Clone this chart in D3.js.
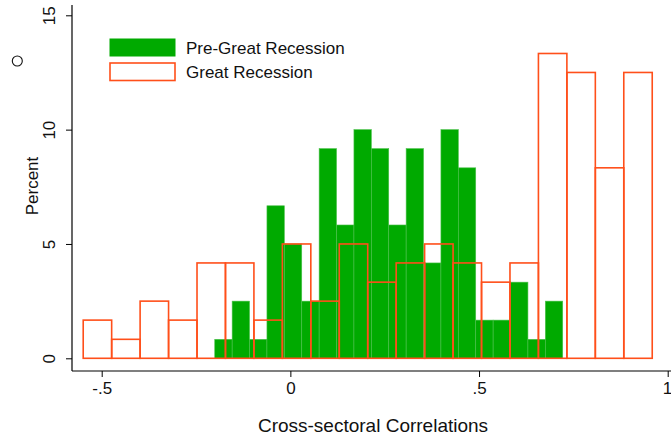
<!DOCTYPE html>
<html>
<head>
<meta charset="utf-8">
<script src="https://cdn.jsdelivr.net/npm/d3@7/dist/d3.min.js"></script>
<style>
  html, body { margin: 0; padding: 0; background: #fff; }
  svg { display: block; font-family: "Liberation Sans", Arial, Helvetica, sans-serif; }
</style>
</head>
<body>
<svg id="chart" width="671" height="439"></svg>
<script>
// Histogram of cross-sectoral correlations, percent of observations per bin.
const preStart = -0.2004;   // first bin edge, pre-Great Recession
const preWidth = 0.04611;   // bin width, pre-Great Recession
const preValues = [0.83, 2.5, 0.83, 6.67, 5.0, 2.5, 9.17, 5.83, 10.0, 9.17,
                   5.83, 9.17, 4.17, 10.0, 8.33, 1.67, 1.67, 3.33, 0.83, 2.5];

const grStart = -0.549;     // first bin edge, Great Recession
const grWidth = 0.0754;     // bin width, Great Recession
const grValues = [1.67, 0.83, 2.5, 1.67, 4.17, 4.17, 1.67, 5.0, 2.5, 5.0,
                  3.33, 4.17, 5.0, 4.17, 3.33, 4.17, 13.33, 12.5, 8.33, 12.5];

const xTicks = [-0.5, 0, 0.5, 1];
const xTickLabels = ["-.5", "0", ".5", "1"];
const yTicks = [0, 5, 10, 15];

const seriesNames = ["Pre-Great Recession", "Great Recession"];
const xTitle = "Cross-sectoral Correlations";
const yTitle = "Percent";

const green = "#00aa00";
const orange = "#ff4f1a";

const svg = d3.select("#chart");

const x = d3.scaleLinear().domain([-0.5, 1]).range([101.7, 667.7]);
const y = d3.scaleLinear().domain([0, 15]).range([358.3, 15.3]);

const axisY = 371;   // baseline of the x axis
const axisX = 72;    // position of the y axis

function bins(start, width, values) {
  return values.map((v, i) => ({ x0: start + i * width, x1: start + (i + 1) * width, v }));
}

// Pre-Great Recession: filled bars
svg.append("g").selectAll("rect")
  .data(bins(preStart, preWidth, preValues))
  .join("rect")
  .attr("x", d => x(d.x0))
  .attr("width", d => x(d.x1) - x(d.x0))
  .attr("y", d => y(d.v))
  .attr("height", d => y(0) - y(d.v))
  .attr("fill", green)
  .attr("stroke", "#4cc04c")
  .attr("stroke-width", 0.6);

// Great Recession: outlined bars
svg.append("g").selectAll("rect")
  .data(bins(grStart, grWidth, grValues))
  .join("rect")
  .attr("x", d => x(d.x0))
  .attr("width", d => x(d.x1) - x(d.x0))
  .attr("y", d => y(d.v))
  .attr("height", d => y(0) - y(d.v))
  .attr("fill", "none")
  .attr("stroke", orange)
  .attr("stroke-width", 1.6);

// X axis
const xAxis = d3.axisBottom(x)
  .tickValues(xTicks)
  .tickFormat((d, i) => xTickLabels[i])
  .tickSize(6)
  .tickPadding(5);
const gx = svg.append("g").attr("transform", `translate(0,${axisY})`).call(xAxis);
gx.select(".domain").remove();
gx.append("line")
  .attr("x1", axisX).attr("x2", 671)
  .attr("y1", 0).attr("y2", 0)
  .attr("stroke", "#000").attr("stroke-width", 1.2);
gx.selectAll(".tick line").attr("stroke", "#000").attr("stroke-width", 1);
gx.selectAll(".tick text")
  .attr("font-size", 17)
  .attr("font-family", "Liberation Sans, Arial, sans-serif")
  .attr("fill", "#111");
// keep the last label inside the page edge
gx.selectAll(".tick text").filter(d => d === 1).attr("text-anchor", "end").attr("x", 4);

// Y axis with vertical tick labels
const yAxis = d3.axisLeft(y)
  .tickValues(yTicks)
  .tickFormat(d3.format("d"))
  .tickSize(6)
  .tickPadding(0);
const gy = svg.append("g").attr("transform", `translate(${axisX},0)`).call(yAxis);
gy.select(".domain").remove();
gy.append("line")
  .attr("x1", 0).attr("x2", 0)
  .attr("y1", 5).attr("y2", axisY)
  .attr("stroke", "#000").attr("stroke-width", 1.2);
gy.selectAll(".tick line").attr("stroke", "#000").attr("stroke-width", 1);
gy.selectAll(".tick text")
  .attr("x", 0).attr("dy", null)
  .attr("text-anchor", "middle")
  .attr("transform", "translate(-17,0) rotate(-90)")
  .attr("font-size", 17)
  .attr("font-family", "Liberation Sans, Arial, sans-serif")
  .attr("fill", "#111");

// Axis titles
svg.append("text")
  .attr("x", 373).attr("y", 432)
  .attr("text-anchor", "middle")
  .attr("font-size", 19)
  .attr("fill", "#111")
  .text(xTitle);

svg.append("text")
  .attr("transform", "translate(38,186) rotate(-90)")
  .attr("text-anchor", "middle")
  .attr("font-size", 17)
  .attr("fill", "#111")
  .text(yTitle);

// Legend
const legend = svg.append("g");
legend.append("rect")
  .attr("x", 109.5).attr("y", 38.5).attr("width", 66).attr("height", 18)
  .attr("fill", green);
legend.append("rect")
  .attr("x", 110).attr("y", 63).attr("width", 65).attr("height", 17.5)
  .attr("fill", "none").attr("stroke", orange).attr("stroke-width", 1.6);
legend.append("text")
  .attr("x", 186).attr("y", 54)
  .attr("font-size", 17).attr("fill", "#111")
  .text(seriesNames[0]);
legend.append("text")
  .attr("x", 186).attr("y", 77.5)
  .attr("font-size", 17).attr("fill", "#111")
  .text(seriesNames[1]);

// Small marker at the left margin
svg.append("circle")
  .attr("cx", 17.3).attr("cy", 61).attr("r", 5)
  .attr("fill", "none").attr("stroke", "#111").attr("stroke-width", 1.1);
</script>
</body>
</html>
